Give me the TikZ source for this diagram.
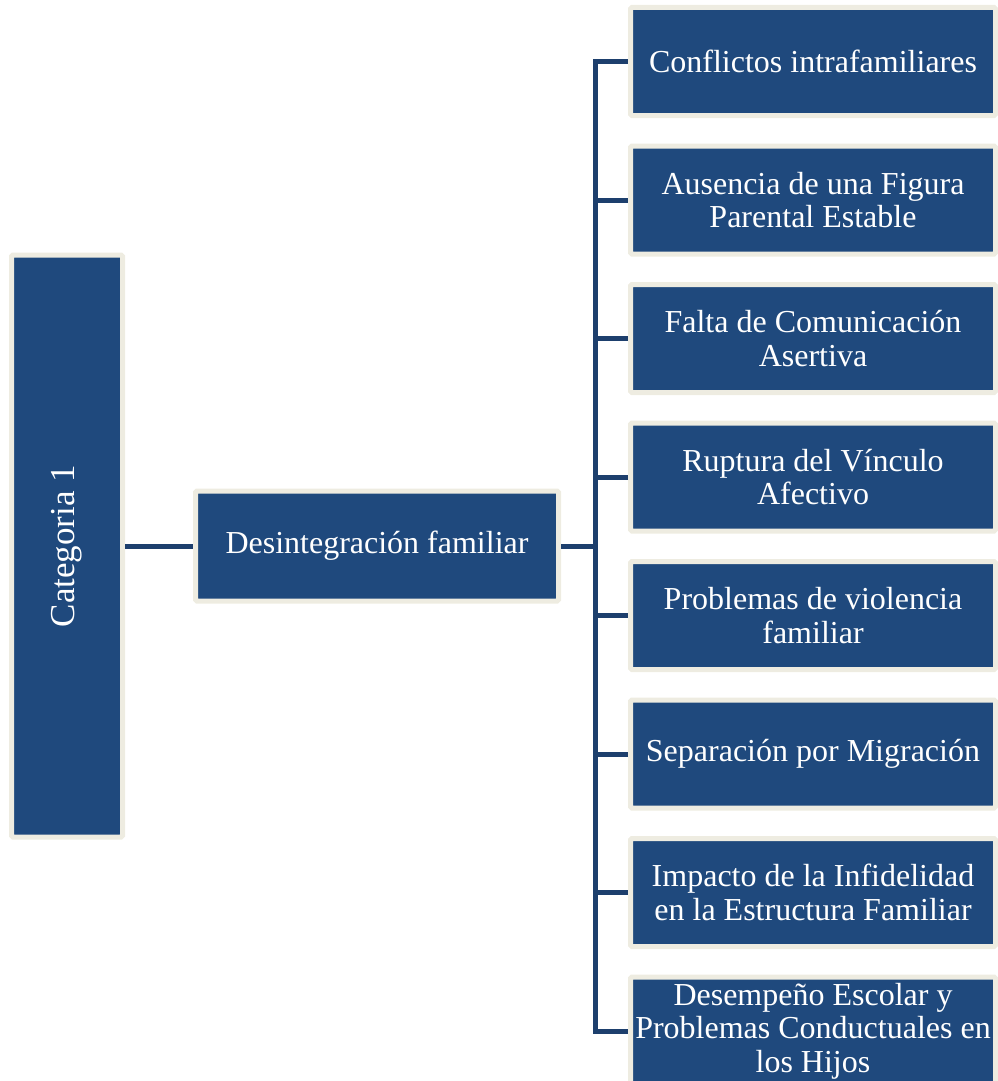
\documentclass[tikz,border=0pt]{standalone}
\usepackage{fontspec}
\setmainfont{Liberation Serif}
\definecolor{boxblue}{HTML}{1F497D}
\definecolor{cream}{HTML}{EEECE1}
\definecolor{linkblue}{HTML}{1D3F6D}
\begin{document}
\begin{tikzpicture}[x=1pt,y=-1pt,
  box/.style={draw=cream, line width=5pt, fill=boxblue, text=white, align=center,
    inner sep=0pt, rounded corners=1.5pt, font=\fontsize{32}{33.5}\selectfont},
  leaf/.style={box, minimum width=365pt, minimum height=108pt},
  conn/.style={draw=linkblue, line width=5pt}]
\useasboundingbox (0,0) rectangle (998,1081);
\node[box, minimum width=111pt, minimum height=582pt] (cat) at (67,546)
  {\rotatebox{90}{\fontsize{35}{36}\selectfont Categoria 1}};
\node[box, minimum width=363pt, minimum height=110pt] (des) at (377,546) {Desintegración familiar};
\node[leaf] (c1) at (813,61.5) {Conflictos intrafamiliares};
\node[leaf] (c2) at (813,200) {Ausencia de una Figura\\Parental Estable};
\node[leaf] (c3) at (813,338.5) {Falta de Comunicación\\Asertiva};
\node[leaf] (c4) at (813,477) {Ruptura del Vínculo\\Afectivo};
\node[leaf] (c5) at (813,615.5) {Problemas de violencia\\familiar};
\node[leaf] (c6) at (813,754) {Separación por Migración};
\node[leaf] (c7) at (813,892.5) {Impacto de la Infidelidad\\en la Estructura Familiar};
\node[leaf] (c8) at (813,1031) {Desempeño Escolar y\\Problemas Conductuales en\\los Hijos};
\coordinate (sp) at (595.5,546);
\draw[conn] (cat.east) -- (des.west);
\draw[conn] (des.east) -- (sp);
\foreach \c in {c1,c2,c3,c4,c5,c6,c7,c8} {
  \draw[conn] (sp) |- (\c.west);
}
\end{tikzpicture}
\end{document}
